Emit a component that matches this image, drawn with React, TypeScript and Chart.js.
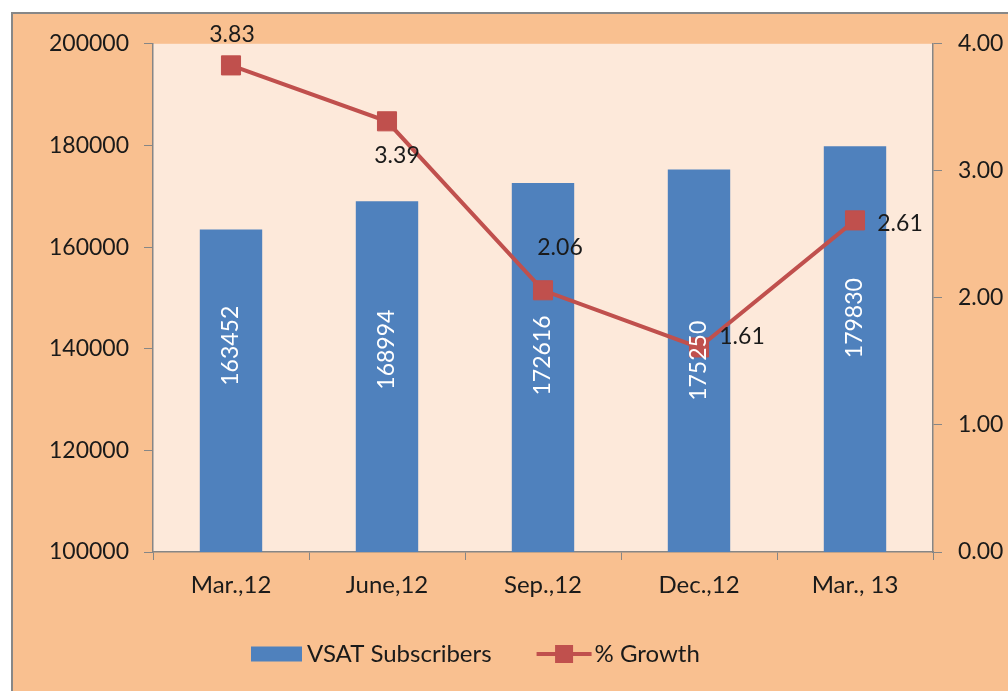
import React, { useEffect, useRef } from "react";
import { Chart, registerables } from "chart.js";

Chart.register(...registerables);

// ---- data ----
const categories = ["Mar.,12", "June,12", "Sep.,12", "Dec.,12", "Mar., 13"];
const subscribers = [163452, 168994, 172616, 175250, 179830];
const growth = [3.83, 3.39, 2.06, 1.61, 2.61];
const leftTicks = [100000, 120000, 140000, 160000, 180000, 200000];
const rightTicks = [0, 1, 2, 3, 4];
const seriesNames = ["VSAT Subscribers", "% Growth"];

// ---- label layout (not data) ----
const growthLabelOffsets = [
  [1, -31],
  [10, 34],
  [17, -43],
  [43, -11],
  [45, 3],
];
const barLabelShift = [-45, -27, -12, 0, -31];

// ---- styles ----
const FONT = "Lato, 'Open Sans', sans-serif";
const TICK_SIZE = 23;
const TEXT_SIZE = 24;
const OUTER_BG = "#F9C090";
const PLOT_BG = "#FDE9DA";
const BAR_COLOR = "#4F81BD";
const LINE_COLOR = "#C0504D";
const AXIS_COLOR = "#868686";
const TEXT_COLOR = "#1a1a1a";

const W = 995;
const H = 677;

const decorPlugin = {
  id: "decor",
  beforeDraw(chart: any) {
    const { ctx, chartArea: a } = chart;
    ctx.save();
    ctx.fillStyle = PLOT_BG;
    ctx.fillRect(a.left, a.top, a.right - a.left, a.bottom - a.top);
    ctx.restore();
  },
  afterDatasetsDraw(chart: any) {
    const ctx = chart.ctx;
    const area = chart.chartArea;
    ctx.save();
    ctx.font = `${TICK_SIZE}px ${FONT}`;
    // bar labels
    const barMeta = chart.getDatasetMeta(0);
    barMeta.data.forEach((el: any, i: number) => {
      const x = el.x;
      const base = Math.min(el.base, area.bottom);
      const y = (el.y + base) / 2 + barLabelShift[i];
      ctx.save();
      ctx.translate(x, y);
      ctx.rotate(-Math.PI / 2);
      ctx.fillStyle = "#ffffff";
      ctx.textAlign = "center";
      ctx.textBaseline = "middle";
      ctx.fillText(String(subscribers[i]), 0, 0);
      ctx.restore();
    });
    // line labels
    const lineMeta = chart.getDatasetMeta(1);
    lineMeta.data.forEach((el: any, i: number) => {
      const [dx, dy] = growthLabelOffsets[i];
      ctx.fillStyle = TEXT_COLOR;
      ctx.textAlign = "center";
      ctx.textBaseline = "middle";
      ctx.fillText(growth[i].toFixed(2), el.x + dx, el.y + dy);
    });
    ctx.restore();
  },
  afterDraw(chart: any) {
    const ctx = chart.ctx;
    ctx.save();
    ctx.font = `${TEXT_SIZE}px ${FONT}`;
    ctx.textBaseline = "middle";
    ctx.textAlign = "left";
    const yc = 640;
    let x = 238;
    ctx.fillStyle = BAR_COLOR;
    ctx.fillRect(x, yc - 7.5, 51, 15);
    x += 56;
    ctx.fillStyle = TEXT_COLOR;
    ctx.fillText(seriesNames[0], x, yc);
    x += ctx.measureText(seriesNames[0]).width + 45;
    ctx.strokeStyle = LINE_COLOR;
    ctx.lineWidth = 4;
    ctx.beginPath();
    ctx.moveTo(x, yc);
    ctx.lineTo(x + 55, yc);
    ctx.stroke();
    ctx.fillStyle = LINE_COLOR;
    ctx.fillRect(x + 27.5 - 9, yc - 9, 18, 18);
    x += 58;
    ctx.fillStyle = TEXT_COLOR;
    ctx.fillText(seriesNames[1], x, yc);
    ctx.restore();
  },
};

export default function App() {
  const ref = useRef<HTMLCanvasElement | null>(null);

  useEffect(() => {
    if (!ref.current) return;
    const tickFont = { family: FONT, size: TICK_SIZE };
    const chart = new Chart(ref.current, {
      data: {
        labels: categories,
        datasets: [
          {
            type: "bar",
            label: seriesNames[0],
            data: subscribers,
            yAxisID: "y",
            order: 1,
            backgroundColor: BAR_COLOR,
            barPercentage: 0.4,
            categoryPercentage: 1,
          } as any,
          {
            type: "line",
            label: seriesNames[1],
            data: growth,
            yAxisID: "y1",
            order: 0,
            borderColor: LINE_COLOR,
            borderWidth: 4,
            tension: 0,
            pointStyle: "rect",
            pointRadius: 13.5,
            pointHoverRadius: 13.5,
            pointBackgroundColor: LINE_COLOR,
            pointBorderColor: LINE_COLOR,
            pointBorderWidth: 1,
          } as any,
        ],
      },
      options: {
        responsive: false,
        animation: false,
        layout: { padding: { top: 28, left: 0, right: 0, bottom: 0 } },
        plugins: {
          legend: { display: false },
          tooltip: { enabled: false },
          title: { display: false },
        },
        scales: {
          x: {
            type: "category",
            offset: true,
            grid: {
              offset: true,
              drawOnChartArea: false,
              tickLength: 8,
              color: AXIS_COLOR,
            },
            border: { color: AXIS_COLOR, width: 1.5 },
            ticks: {
              font: { family: FONT, size: TEXT_SIZE },
              color: TEXT_COLOR,
              padding: 11,
              maxRotation: 0,
            },
            afterFit: (s: any) => {
              s.height = 139;
            },
          },
          y: {
            type: "linear",
            position: "left",
            min: leftTicks[0],
            max: leftTicks[leftTicks.length - 1],
            afterBuildTicks: (s: any) => {
              s.ticks = leftTicks.map((v) => ({ value: v }));
            },
            grid: { drawOnChartArea: false, tickLength: 9, color: AXIS_COLOR },
            border: { color: AXIS_COLOR, width: 1.5 },
            ticks: {
              font: tickFont,
              color: TEXT_COLOR,
              padding: 15,
              callback: (v: any) => String(v),
            },
            afterFit: (s: any) => {
              s.width = 140;
            },
          },
          y1: {
            type: "linear",
            position: "right",
            min: rightTicks[0],
            max: rightTicks[rightTicks.length - 1],
            afterBuildTicks: (s: any) => {
              s.ticks = rightTicks.map((v) => ({ value: v }));
            },
            grid: { drawOnChartArea: false, tickLength: 9, color: AXIS_COLOR },
            border: { color: AXIS_COLOR, width: 1.5 },
            ticks: {
              font: tickFont,
              color: TEXT_COLOR,
              padding: 16,
              callback: (v: any) => Number(v).toFixed(2),
            },
            afterFit: (s: any) => {
              s.width = 75;
            },
          },
        },
      } as any,
      plugins: [decorPlugin],
    });
    return () => chart.destroy();
  }, []);

  return (
    <div
      style={{
        position: "fixed",
        left: 0,
        top: 0,
        width: 1008,
        height: 691,
        background: "#ffffff",
        overflow: "hidden",
      }}
    >
      <div
        style={{
          position: "absolute",
          left: 11,
          top: 12,
          width: 997,
          height: 679,
          boxSizing: "border-box",
          borderLeft: "2px solid #878787",
          borderTop: "2px solid #878787",
          background: OUTER_BG,
        }}
      >
        <canvas
          ref={ref}
          width={W}
          height={H}
          style={{ display: "block", width: W, height: H }}
        />
      </div>
    </div>
  );
}
